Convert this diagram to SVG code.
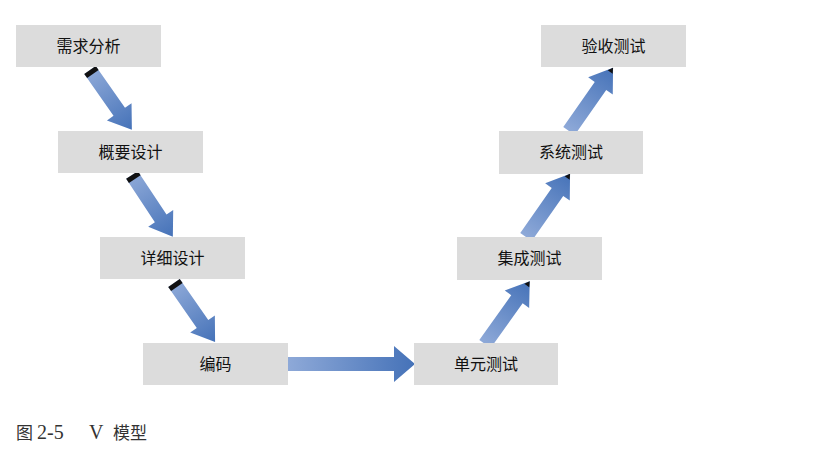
<svg xmlns="http://www.w3.org/2000/svg" width="833" height="456" viewBox="0 0 833 456">
<style>
.box{fill:#dcdcdc;}
.lbl{font-family:"Liberation Serif","Noto Sans CJK SC",serif;font-size:16px;fill:#111;text-anchor:middle;}
.cap{font-family:"Liberation Serif","Noto Sans CJK SC",serif;font-size:17px;fill:#333;}
.capl{font-family:"Liberation Serif",serif;font-size:20px;fill:#333;}
.arr{fill:url(#g);}
.blk{fill:#111;}
</style>
<defs>
<linearGradient id="g" x1="0" y1="0" x2="1" y2="0">
<stop offset="0" stop-color="#8ea9d8"/>
<stop offset="1" stop-color="#4572b8"/>
</linearGradient>
</defs>
<rect width="833" height="456" fill="#fff"/>
<g id="connectors">
<g transform="translate(90,70) rotate(55)">
<path class="arr" d="M0,-7 H51 V-15 L73,0 L51,15 V7 H0 Z"/>
<rect class="blk" x="0" y="-7" width="5" height="14"/>
</g>
<g transform="translate(132,175) rotate(56.5)">
<path class="arr" d="M0,-7 H52 V-15 L74,0 L52,15 V7 H0 Z"/>
<rect class="blk" x="0" y="-7" width="5" height="14"/>
</g>
<g transform="translate(174,283) rotate(55.2)">
<path class="arr" d="M0,-7 H50 V-15 L72,0 L50,15 V7 H0 Z"/>
<rect class="blk" x="0" y="-7" width="5" height="14"/>
</g>
<g transform="translate(288,364)">
<path class="arr" d="M0,-7 H106 V-18 L127,0 L106,18 V7 H0 Z"/>
</g>
<g transform="translate(485,344) rotate(-54.5)">
<path class="arr" d="M0,-7 H55 V-15 L77,0 L55,15 V7 H0 Z"/>
<path class="blk" d="M72,-3 L77,0 L72,3 Z"/>
</g>
<g transform="translate(526,237) rotate(-55.1)">
<path class="arr" d="M0,-7 H55 V-15 L77,0 L55,15 V7 H0 Z"/>
<path class="blk" d="M72,-3 L77,0 L72,3 Z"/>
</g>
<g transform="translate(569,131) rotate(-55.1)">
<path class="arr" d="M0,-7 H55 V-15 L77,0 L55,15 V7 H0 Z"/>
<path class="blk" d="M72,-3 L77,0 L72,3 Z"/>
</g>
</g>
<g id="n1"><rect class="box" x="16" y="25" width="145" height="42"/><text class="lbl" x="88.5" y="52">需求分析</text></g>
<g id="n2"><rect class="box" x="58" y="131" width="145" height="42"/><text class="lbl" x="130.5" y="158">概要设计</text></g>
<g id="n3"><rect class="box" x="100" y="237" width="145" height="42"/><text class="lbl" x="172.5" y="264">详细设计</text></g>
<g id="n4"><rect class="box" x="143" y="343" width="145" height="42"/><text class="lbl" x="215.5" y="370">编码</text></g>
<g id="n5"><rect class="box" x="414" y="343" width="144" height="42"/><text class="lbl" x="486" y="370">单元测试</text></g>
<g id="n6"><rect class="box" x="457" y="237" width="145" height="43"/><text class="lbl" x="529.5" y="264">集成测试</text></g>
<g id="n7"><rect class="box" x="499" y="131" width="144" height="43"/><text class="lbl" x="571" y="158">系统测试</text></g>
<g id="n8"><rect class="box" x="541" y="25" width="145" height="42"/><text class="lbl" x="613.5" y="52">验收测试</text></g>
<g id="caption">
<text class="cap" x="16" y="439">图</text>
<text class="capl" x="37" y="439">2-5</text>
<text class="capl" x="89" y="439">V</text>
<text class="cap" x="113" y="439">模型</text>
</g>
</svg>
